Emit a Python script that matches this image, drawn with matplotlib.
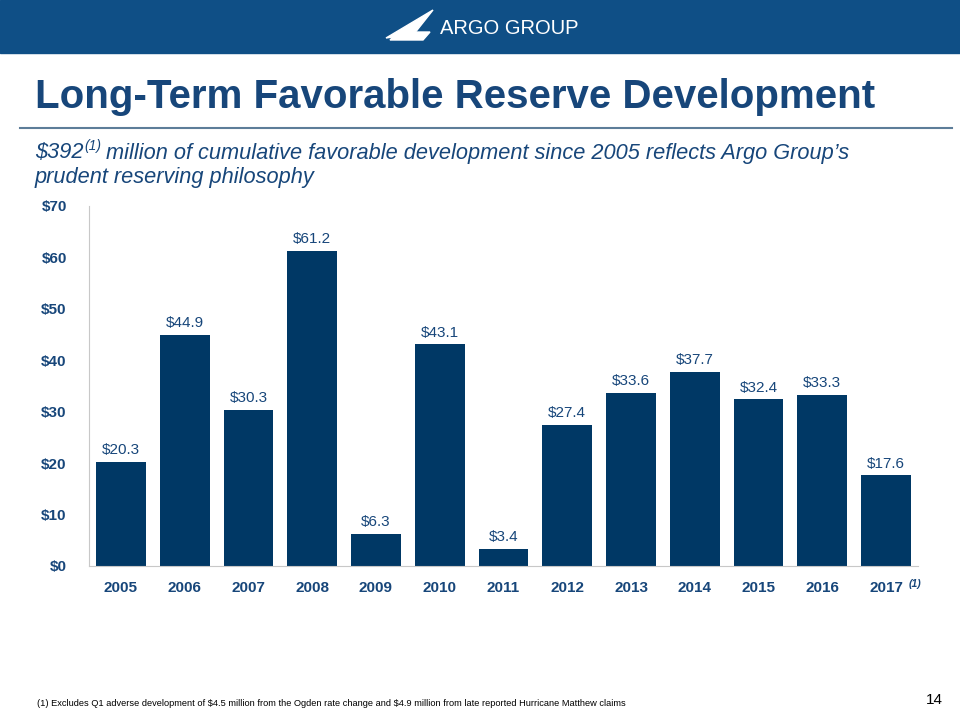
import matplotlib.pyplot as plt
from matplotlib.patches import Rectangle, Polygon

years = ["2005", "2006", "2007", "2008", "2009", "2010", "2011",
         "2012", "2013", "2014", "2015", "2016", "2017"]
values = [20.3, 44.9, 30.3, 61.2, 6.3, 43.1, 3.4, 27.4, 33.6, 37.7, 32.4, 33.3, 17.6]
yticks = [0, 10, 20, 30, 40, 50, 60, 70]

bar_color = "#003865"
text_color = "#17467a"

plt.rcParams["font.family"] = ["Liberation Sans", "DejaVu Sans"]

fig = plt.figure(figsize=(9.6, 7.2), dpi=100)
renderer = fig.canvas.get_renderer()

# header band
fig.patches.append(Rectangle((0, 1 - 53 / 720), 1, 53 / 720, transform=fig.transFigure,
                             color="#0f4f86", zorder=0))
# simple logo mark
logo = [[(386, 38), (433, 10), (414, 34)], [(398, 32), (430, 32), (423, 40), (390, 40)]]
for pts in logo:
    fig.patches.append(Polygon([(x / 960, 1 - y / 720) for x, y in pts], closed=True,
                               transform=fig.transFigure, color="white", zorder=1))
fig.text(440 / 960, 1 - 29 / 720, "ARGO GROUP", color="white", fontsize=14.5,
         va="center", ha="left")

fig.text(35 / 960, 1 - 97 / 720, "Long-Term Favorable Reserve Development",
         color=text_color, fontsize=29, fontweight="bold", va="center", ha="left")
fig.add_artist(plt.Line2D([20 / 960, 952 / 960], [1 - 128 / 720, 1 - 128 / 720],
                          transform=fig.transFigure, color="#5d7d99", lw=1.5))

# subtitle with superscript
sub_size = 15.7
t1 = fig.text(35 / 960, 1 - 153 / 720, "$392", color=text_color, fontsize=sub_size,
              style="italic", va="center", ha="left")
x_end = t1.get_window_extent(renderer).x1 / 960
t2 = fig.text(x_end + 1 / 960, 1 - 146 / 720, "(1)", color=text_color, fontsize=10,
              style="italic", va="center", ha="left")
x_end = t2.get_window_extent(renderer).x1 / 960
fig.text(x_end + 5 / 960, 1 - 153 / 720,
         "million of cumulative favorable development since 2005 reflects Argo Group’s",
         color=text_color, fontsize=sub_size, style="italic", va="center", ha="left")
fig.text(35 / 960, 1 - 178 / 720, "prudent reserving philosophy",
         color=text_color, fontsize=sub_size, style="italic", va="center", ha="left")

ax = fig.add_axes([89 / 960, 154 / 720, 829 / 960, 360 / 720])
x = range(len(years))
bars = ax.bar(x, values, width=0.78, color=bar_color)
for xi, v in zip(x, values):
    ax.text(xi, v + 2.3, f"${v:.1f}", ha="center", va="center",
            fontsize=11, color=text_color)

ax.set_xlim(-0.5, len(years) - 0.5)
ax.set_ylim(0, 70)
ax.set_yticks(yticks)
ax.set_yticklabels([f"${t}" for t in yticks], fontweight="bold", color=text_color, fontsize=11)
ax.set_xticks(list(x))
ax.set_xticklabels(years, fontweight="bold", color=text_color, fontsize=11)
ax.tick_params(length=0, pad=16)
ax.tick_params(axis="x", pad=11)
for s in ["top", "right"]:
    ax.spines[s].set_visible(False)
for s in ["left", "bottom"]:
    ax.spines[s].set_color("#c8c8c8")
ax.text(len(years) - 1 + 0.36, -3.5, "(1)", fontsize=7.5, fontweight="bold",
        style="italic", color=text_color, ha="left", va="center")

fig.text(37 / 960, 1 - 703 / 720,
         "(1) Excludes Q1 adverse development of \\$4.5 million from the Ogden rate change and \\$4.9 million from late reported Hurricane Matthew claims",
         fontsize=6.7, color="black", va="center", ha="left")
fig.text(943 / 960, 1 - 700 / 720, "14", fontsize=11, color="black", va="center", ha="right")

fig.savefig("out.png", dpi=100)
